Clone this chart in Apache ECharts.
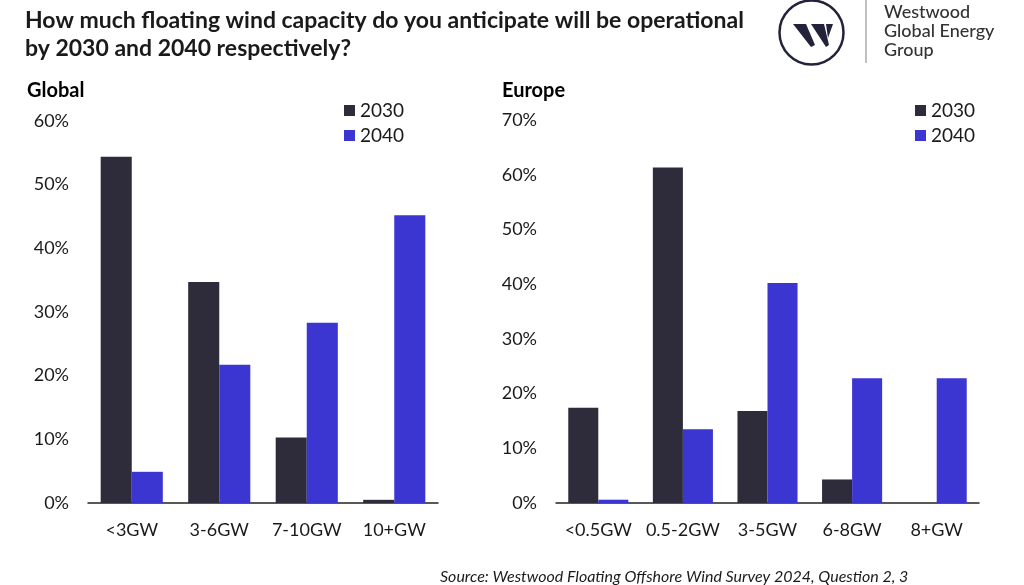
<!DOCTYPE html>
<html>
<head>
<meta charset="utf-8">
<script src="https://cdn.jsdelivr.net/npm/echarts@6/dist/echarts.min.js"></script>
<style>html,body{margin:0;padding:0;background:#fff}#c{width:1024px;height:585px}</style>
</head>
<body>
<div id="c"></div>
<script>
const globalCats = ['<3GW', '3-6GW', '7-10GW', '10+GW'];
const global2030 = [54.4, 34.7, 10.3, 0.5];
const global2040 = [4.9, 21.7, 28.3, 45.2];
const europeCats = ['<0.5GW', '0.5-2GW', '3-5GW', '6-8GW', '8+GW'];
const europe2030 = [17.4, 61.3, 16.8, 4.3, 0];
const europe2040 = [0.6, 13.5, 40.2, 22.8, 22.8];
const seriesNames = ['2030', '2040'];

const C30 = '#2e2b3a', C40 = '#3b36d1', TXT = '#1a1a1a';
const FONT = 'Lato';

const chart = echarts.init(document.getElementById('c'), null, {renderer: 'canvas'});
function xAx(idx, cats) {
  return {type: 'category', gridIndex: idx, data: cats,
    axisLine: {lineStyle: {color: '#222', width: 1.5}}, axisTick: {show: false},
    axisLabel: {interval: 0, color: TXT, fontFamily: FONT, fontSize: 18, margin: 18}};
}
function yAx(idx, max) {
  return {type: 'value', gridIndex: idx, min: 0, max: max, interval: 10,
    axisLine: {show: false}, axisTick: {show: false}, splitLine: {show: false},
    axisLabel: {color: TXT, fontFamily: FONT, fontSize: 18, margin: 19, formatter: '{value}%'}};
}
function legend(left) {
  return {data: seriesNames, orient: 'vertical', left: left, top: 96, itemWidth: 11, itemHeight: 11,
    itemGap: 6, icon: 'rect', textStyle: {color: TXT, fontFamily: FONT, fontSize: 19, lineHeight: 18}};
}
function bar(name, x, data, color) {
  return {name: name, type: 'bar', xAxisIndex: x, yAxisIndex: x, data: data, barGap: '0%',
    barCategoryGap: '29%', itemStyle: {color: color}, emphasis: {disabled: true}};
}
chart.setOption({
  animation: false,
  color: [C30, C40],
  title: [
    {text: 'How much floating wind capacity do you anticipate will be operational\nby 2030 and 2040 respectively?',
      left: 20, top: 2, textStyle: {color: TXT, fontFamily: FONT, fontWeight: 'bold', fontSize: 23, lineHeight: 28}},
    {text: 'Global', left: 22, top: 76, textStyle: {color: '#000', fontFamily: FONT, fontWeight: 'bold', fontSize: 20}},
    {text: 'Europe', left: 497, top: 76, textStyle: {color: '#000', fontFamily: FONT, fontWeight: 'bold', fontSize: 20}},
    {text: 'Source: Westwood Floating Offshore Wind Survey 2024, Question 2, 3', left: 435, top: 564,
      textStyle: {color: TXT, fontFamily: FONT, fontStyle: 'italic', fontWeight: 'normal', fontSize: 16}}
  ],
  legend: [legend(339), legend(910)],
  grid: [
    {left: 88, right: 586, top: 121, bottom: 82},
    {left: 556, right: 45, top: 120, bottom: 82}
  ],
  xAxis: [xAx(0, globalCats), xAx(1, europeCats)],
  yAxis: [yAx(0, 60), yAx(1, 70)],
  series: [
    bar(seriesNames[0], 0, global2030, C30),
    bar(seriesNames[1], 0, global2040, C40),
    bar(seriesNames[0], 1, europe2030, C30),
    bar(seriesNames[1], 1, europe2040, C40)
  ],
  graphic: [
    {type: 'circle', shape: {cx: 811.5, cy: 32.5, r: 32}, style: {fill: 'none', stroke: '#22223a', lineWidth: 2.5}},
    {type: 'polygon', shape: {points: [[793, 24], [806, 24], [815, 45], [811, 47]]}, style: {fill: '#22223a'}},
    {type: 'polygon', shape: {points: [[811, 24], [824, 24], [829, 45], [826, 47]]}, style: {fill: '#22223a'}},
    {type: 'polygon', shape: {points: [[826, 24], [833, 24], [828, 38]]}, style: {fill: '#22223a'}},
    {type: 'line', shape: {x1: 866, y1: 0, x2: 866, y2: 63}, style: {stroke: '#aaaaaa', lineWidth: 1.5}},
    {type: 'text', left: 884, top: 3, style: {text: 'Westwood\nGlobal Energy\nGroup', fill: '#333', font: '500 18px Lato', lineHeight: 19}}
  ]
});
</script>
</body>
</html>
